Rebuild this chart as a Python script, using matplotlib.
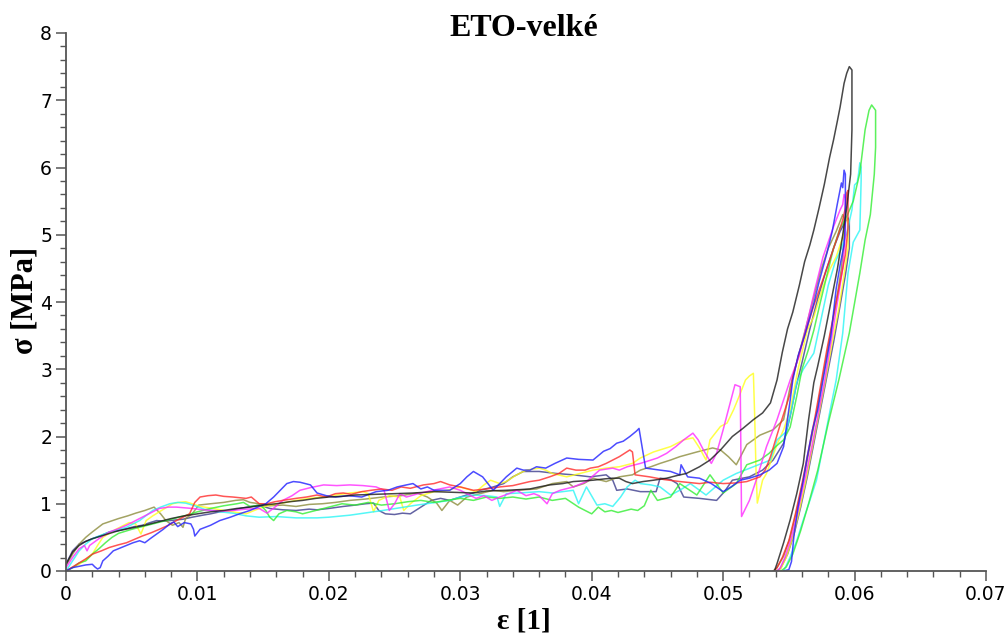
import matplotlib.pyplot as plt
from matplotlib.ticker import MultipleLocator

# stress-strain curves (strain [-], stress [MPa]), loading then unloading
navy = [(0, 0.1), (0.0005, 0.3), (0.001, 0.4), (0.0015, 0.44), (0.002, 0.48), (0.0027, 0.53), (0.0033, 0.58),
        (0.004, 0.6), (0.0046, 0.63), (0.0052, 0.66), (0.0058, 0.68), (0.0064, 0.72), (0.0069, 0.75), (0.0074, 0.74),
        (0.0079, 0.75), (0.0084, 0.76), (0.0089, 0.77), (0.0096, 0.8), (0.0104, 0.83), (0.011, 0.85), (0.0117, 0.88),
        (0.0125, 0.9), (0.0135, 0.94), (0.0147, 0.98), (0.0155, 0.93), (0.0165, 0.91), (0.0175, 0.9), (0.0185, 0.92),
        (0.0191, 0.91), (0.02, 0.93), (0.0211, 0.96), (0.022, 0.98), (0.0228, 1.0), (0.0234, 1.01), (0.0238, 0.9),
        (0.0243, 0.85), (0.025, 0.84), (0.0256, 0.86), (0.0262, 0.85), (0.027, 0.95), (0.0278, 1.05), (0.0285, 1.08),
        (0.0292, 1.05), (0.03, 1.1), (0.0308, 1.15), (0.0315, 1.2), (0.0325, 1.25), (0.0333, 1.3), (0.034, 1.4),
        (0.0348, 1.48), (0.036, 1.48), (0.0373, 1.45), (0.0386, 1.43), (0.0399, 1.4), (0.0411, 1.43), (0.0416, 1.35),
        (0.0419, 1.2), (0.0427, 1.22), (0.0437, 1.18), (0.0449, 1.18), (0.0452, 1.38), (0.046, 1.36), (0.0465, 1.3),
        (0.047, 1.1), (0.0482, 1.08), (0.0495, 1.05), (0.0501, 1.18), (0.0507, 1.35), (0.052, 1.4), (0.053, 1.5),
        (0.0538, 1.65), (0.0546, 1.9), (0.0551, 2.3), (0.0555, 2.7), (0.056, 3.1), (0.0566, 3.6), (0.0572, 4.05),
        (0.0578, 4.45), (0.0584, 4.8), (0.0589, 5.05), (0.0593, 5.2), (0.0595, 5.25), (0.0596, 5.2),
        (0.0596, 4.8), (0.0593, 4.4), (0.0589, 3.95), (0.0584, 3.4), (0.0579, 2.9), (0.0574, 2.4), (0.0569, 1.9),
        (0.0564, 1.4), (0.0559, 0.95), (0.0554, 0.55), (0.0549, 0.25), (0.0544, 0.05), (0.0541, 0.0)]

olive = [(0, 0.08), (0.0005, 0.25), (0.001, 0.4), (0.0015, 0.5), (0.002, 0.58), (0.0028, 0.7), (0.0034, 0.74),
         (0.004, 0.78), (0.0047, 0.82), (0.0053, 0.86), (0.006, 0.9), (0.0067, 0.95), (0.0072, 0.85), (0.0076, 0.75),
         (0.0081, 0.68), (0.0086, 0.72), (0.0089, 0.65), (0.0091, 0.78), (0.0096, 0.85), (0.0101, 0.98), (0.011, 1.0),
         (0.012, 1.02), (0.0129, 1.05), (0.0135, 1.06), (0.014, 1.02), (0.0147, 1.0), (0.0155, 0.97), (0.0165, 0.98),
         (0.0175, 0.96), (0.0185, 0.99), (0.0195, 1.0), (0.0205, 1.02), (0.0216, 1.05), (0.0228, 1.07), (0.0241, 1.1),
         (0.0255, 1.12), (0.0267, 1.16), (0.0275, 1.1), (0.0282, 1.01), (0.0286, 0.9), (0.0292, 1.05), (0.0298, 0.98),
         (0.0305, 1.1), (0.0315, 1.15), (0.0325, 1.2), (0.0333, 1.18), (0.0343, 1.2), (0.0358, 1.22), (0.037, 1.3),
         (0.0381, 1.33), (0.0386, 1.25), (0.0394, 1.3), (0.0401, 1.38), (0.0411, 1.33), (0.0421, 1.4), (0.0431, 1.43),
         (0.0437, 1.5), (0.0445, 1.55), (0.0452, 1.6), (0.046, 1.65), (0.0467, 1.7), (0.048, 1.77), (0.0492, 1.83),
         (0.0498, 1.8), (0.0504, 1.7), (0.051, 1.58), (0.0518, 1.88), (0.0528, 2.02), (0.0538, 2.1), (0.0546, 2.25),
         (0.0551, 2.74), (0.0556, 3.1), (0.0562, 3.55), (0.0568, 4.0), (0.0574, 4.45), (0.058, 4.8), (0.0586, 5.05),
         (0.0589, 5.2), (0.0591, 5.3), (0.0592, 5.25),
         (0.0592, 4.9), (0.059, 4.5), (0.0586, 4.0), (0.0581, 3.45), (0.0576, 2.9), (0.0571, 2.35), (0.0566, 1.85),
         (0.0561, 1.35), (0.0556, 0.9), (0.0551, 0.5), (0.0546, 0.22), (0.0541, 0.05), (0.0538, 0.0)]

yellow = [(0, 0), (0.0005, 0.05), (0.001, 0.1), (0.0015, 0.17), (0.002, 0.25), (0.0024, 0.38), (0.0028, 0.5),
          (0.0033, 0.56), (0.0038, 0.62), (0.0043, 0.67), (0.0048, 0.72), (0.0053, 0.7), (0.0057, 0.55), (0.0061, 0.75),
          (0.0066, 0.82), (0.0071, 0.88), (0.0076, 0.94), (0.0081, 1.0), (0.0086, 1.02), (0.0091, 1.03), (0.0096, 1.0),
          (0.0102, 0.96), (0.0112, 0.93), (0.012, 0.9), (0.0127, 0.88), (0.0137, 0.85), (0.0147, 0.93), (0.0155, 0.98),
          (0.0165, 1.01), (0.0175, 1.05), (0.0185, 1.08), (0.0195, 1.1), (0.0206, 1.13), (0.0216, 1.16), (0.0226, 1.18),
          (0.023, 1.15), (0.0234, 0.88), (0.0238, 1.05), (0.0246, 1.12), (0.0254, 1.1), (0.0257, 0.9), (0.0262, 1.0),
          (0.027, 1.12), (0.028, 1.18), (0.029, 1.2), (0.03, 1.25), (0.0305, 1.22), (0.0312, 1.18), (0.0318, 1.28),
          (0.0323, 1.35), (0.033, 1.3), (0.0335, 1.33), (0.0342, 1.42), (0.035, 1.5), (0.036, 1.53), (0.0365, 1.5),
          (0.037, 1.45), (0.0381, 1.4), (0.0391, 1.45), (0.0401, 1.5), (0.0411, 1.53), (0.0421, 1.55), (0.0431, 1.6),
          (0.0437, 1.68), (0.0447, 1.77), (0.046, 1.85), (0.047, 1.95), (0.0477, 1.98), (0.0482, 1.83), (0.0487, 1.65),
          (0.049, 1.95), (0.0498, 2.15), (0.0503, 2.2), (0.0508, 2.4), (0.0512, 2.59), (0.0517, 2.84), (0.052, 2.9),
          (0.0523, 2.94), (0.0524, 2.3), (0.0525, 1.5), (0.0526, 1.01), (0.053, 1.35), (0.0533, 1.45), (0.0541, 1.88),
          (0.0546, 2.1), (0.0551, 2.4), (0.0557, 3.0), (0.0564, 3.58), (0.0569, 3.78), (0.0576, 4.23), (0.0581, 4.48),
          (0.0586, 4.67), (0.0591, 4.97), (0.0594, 5.27), (0.0595, 5.2),
          (0.0595, 4.8), (0.0592, 4.4), (0.0588, 3.9), (0.0583, 3.4), (0.0578, 2.85), (0.0573, 2.35), (0.0568, 1.85),
          (0.0563, 1.35), (0.0558, 0.9), (0.0553, 0.5), (0.0548, 0.2), (0.0544, 0.04), (0.0542, 0.0)]

cyan = [(0, 0), (0.0005, 0.15), (0.001, 0.3), (0.0015, 0.4), (0.002, 0.48), (0.0033, 0.58), (0.0046, 0.65),
        (0.0056, 0.75), (0.0066, 0.9), (0.0072, 0.95), (0.0079, 1.0), (0.0085, 1.02), (0.0091, 1.01), (0.0098, 0.97),
        (0.0105, 0.92), (0.0117, 0.88), (0.0127, 0.86), (0.0137, 0.82), (0.0147, 0.8), (0.016, 0.81), (0.0175, 0.79),
        (0.0191, 0.79), (0.02, 0.8), (0.0216, 0.83), (0.0241, 0.9), (0.0267, 0.98), (0.0285, 1.03), (0.0292, 1.05),
        (0.03, 1.1), (0.031, 1.13), (0.032, 1.12), (0.0328, 1.1), (0.033, 0.96), (0.0335, 1.15), (0.0345, 1.16),
        (0.036, 1.18), (0.037, 1.16), (0.0386, 1.2), (0.039, 1.0), (0.0396, 1.25), (0.0404, 0.98), (0.041, 1.0),
        (0.0416, 0.96), (0.0422, 1.1), (0.0427, 1.25), (0.0433, 1.35), (0.0437, 1.3), (0.0445, 1.28), (0.0452, 1.25),
        (0.046, 1.13), (0.0467, 1.2), (0.0475, 1.3), (0.0487, 1.13), (0.05, 1.35), (0.051, 1.45), (0.0523, 1.55),
        (0.0536, 1.65), (0.0541, 1.95), (0.0548, 2.07), (0.0552, 2.4), (0.0556, 2.8), (0.0561, 3.0), (0.0569, 3.24),
        (0.0576, 3.88), (0.058, 4.25), (0.0585, 4.58), (0.059, 4.8), (0.0594, 5.02), (0.0598, 5.37), (0.06, 5.74),
        (0.0602, 5.78), (0.0603, 5.9), (0.0604, 6.07), (0.0605, 6.0),
        (0.0605, 5.81), (0.0604, 5.07), (0.0599, 4.89), (0.0595, 4.43), (0.0591, 3.54), (0.0586, 2.84), (0.0581, 2.35),
        (0.0576, 1.85), (0.0571, 1.35), (0.0566, 1.05), (0.0561, 0.76), (0.0556, 0.45), (0.0551, 0.21), (0.0548, 0.08),
        (0.0546, 0.0)]

green = [(0, 0), (0.0005, 0.05), (0.001, 0.12), (0.0015, 0.15), (0.002, 0.25), (0.0025, 0.33), (0.003, 0.42),
         (0.0035, 0.5), (0.004, 0.56), (0.005, 0.62), (0.006, 0.67), (0.007, 0.72), (0.008, 0.77), (0.009, 0.82),
         (0.01, 0.88), (0.011, 0.93), (0.012, 0.97), (0.013, 1.0), (0.0135, 1.02), (0.014, 0.96), (0.0148, 0.98),
         (0.0152, 0.9), (0.0155, 0.8), (0.0158, 0.75), (0.0162, 0.85), (0.0168, 0.9), (0.0175, 0.88), (0.018, 0.85),
         (0.019, 0.9), (0.02, 0.95), (0.021, 1.0), (0.022, 0.98), (0.023, 1.02), (0.024, 0.98), (0.025, 1.0),
         (0.026, 1.03), (0.027, 1.05), (0.028, 1.02), (0.029, 1.05), (0.03, 1.08), (0.031, 1.05), (0.032, 1.1),
         (0.033, 1.08), (0.034, 1.1), (0.035, 1.07), (0.036, 1.1), (0.037, 1.05), (0.038, 1.08), (0.039, 0.95),
         (0.04, 0.85), (0.0405, 0.95), (0.041, 0.88), (0.0415, 0.9), (0.042, 0.87), (0.043, 0.92), (0.0435, 0.9),
         (0.044, 0.97), (0.0445, 1.2), (0.045, 1.05), (0.046, 1.1), (0.0467, 1.3), (0.048, 1.13), (0.049, 1.43),
         (0.05, 1.16), (0.051, 1.3), (0.0518, 1.58), (0.0528, 1.65), (0.0535, 1.75), (0.054, 1.85), (0.0546, 1.95),
         (0.0551, 2.14), (0.0556, 2.6), (0.056, 3.0), (0.0565, 3.3), (0.0569, 3.58), (0.0574, 4.0), (0.0579, 4.4),
         (0.0584, 4.8), (0.0589, 5.1), (0.0594, 5.27), (0.0599, 5.5), (0.0604, 5.92), (0.0608, 6.56), (0.0611, 6.85),
         (0.0613, 6.93), (0.0616, 6.85),
         (0.0616, 6.3), (0.0615, 5.9), (0.0612, 5.3), (0.0608, 4.92), (0.0604, 4.43), (0.0596, 3.54), (0.0588, 2.84),
         (0.058, 2.2), (0.0572, 1.5), (0.0565, 1.0), (0.0559, 0.6), (0.0553, 0.25), (0.0548, 0.06), (0.0544, 0.0)]

magenta = [(0, 0.05), (0.0005, 0.2), (0.001, 0.33), (0.0014, 0.38), (0.0016, 0.3), (0.0018, 0.38), (0.0025, 0.48),
           (0.0033, 0.58), (0.004, 0.63), (0.0046, 0.68), (0.0052, 0.74), (0.0058, 0.8), (0.0065, 0.87), (0.0071, 0.93),
           (0.0078, 0.95), (0.0084, 0.95), (0.009, 0.94), (0.0096, 0.93), (0.0104, 0.91), (0.0112, 0.9), (0.012, 0.89),
           (0.0127, 0.9), (0.0137, 0.92), (0.0147, 0.93), (0.0153, 0.86), (0.0159, 0.95), (0.0165, 1.05),
           (0.0172, 1.12), (0.0178, 1.2), (0.0186, 1.24), (0.0196, 1.28), (0.0206, 1.27), (0.0216, 1.28),
           (0.0226, 1.27), (0.0236, 1.25), (0.0242, 1.2), (0.0246, 0.9), (0.025, 1.0), (0.0254, 1.15), (0.0259, 1.1),
           (0.0268, 1.15), (0.0279, 1.2), (0.0292, 1.25), (0.03, 1.2), (0.0305, 1.15), (0.0312, 1.08), (0.0318, 1.12),
           (0.0324, 1.05), (0.033, 1.1), (0.0337, 1.15), (0.0343, 1.2), (0.035, 1.12), (0.0356, 1.15), (0.036, 1.12),
           (0.0366, 1.0), (0.037, 1.15), (0.0376, 1.2), (0.0386, 1.25), (0.0396, 1.33), (0.0406, 1.5), (0.0416, 1.53),
           (0.0421, 1.5), (0.0427, 1.55), (0.0437, 1.6), (0.0442, 1.63), (0.045, 1.68), (0.0457, 1.75), (0.0464, 1.85),
           (0.047, 1.95), (0.0477, 2.05), (0.0481, 1.95), (0.0485, 1.8), (0.0491, 1.6), (0.0495, 1.75), (0.05, 2.1),
           (0.0504, 2.4), (0.0509, 2.77), (0.0513, 2.74), (0.0514, 0.81), (0.052, 1.05), (0.0526, 1.4),
           (0.0533, 1.85), (0.0541, 2.25), (0.0551, 2.84), (0.0558, 3.2), (0.0564, 3.7), (0.057, 4.2), (0.0576, 4.67),
           (0.0584, 5.12), (0.0589, 5.37), (0.0591, 5.45), (0.0592, 5.6), (0.0593, 5.55),
           (0.0593, 5.0), (0.0591, 4.5), (0.0587, 4.0), (0.0582, 3.4), (0.0577, 2.8), (0.0572, 2.3), (0.0567, 1.8),
           (0.0562, 1.35), (0.0557, 0.9), (0.0552, 0.5), (0.0547, 0.2), (0.0543, 0.03), (0.0541, 0.0)]

red = [(0, 0), (0.0005, 0.06), (0.001, 0.12), (0.0015, 0.18), (0.002, 0.25), (0.0027, 0.3), (0.0033, 0.35),
       (0.004, 0.39), (0.0046, 0.42), (0.0052, 0.47), (0.0058, 0.52), (0.0065, 0.57), (0.0071, 0.62), (0.0078, 0.68),
       (0.0084, 0.75), (0.0089, 0.8), (0.0094, 0.85), (0.0098, 1.02), (0.0102, 1.1), (0.0108, 1.12), (0.0114, 1.13),
       (0.012, 1.11), (0.0127, 1.1), (0.0132, 1.09), (0.0137, 1.08), (0.0141, 1.1), (0.0144, 1.05), (0.0147, 1.0),
       (0.0153, 1.0), (0.0159, 1.03), (0.0165, 1.05), (0.0175, 1.08), (0.0183, 1.1), (0.0191, 1.13), (0.0198, 1.1),
       (0.0205, 1.15), (0.0211, 1.16), (0.0217, 1.14), (0.0225, 1.18), (0.0232, 1.2), (0.024, 1.22), (0.0248, 1.2),
       (0.0255, 1.25), (0.0262, 1.23), (0.0272, 1.28), (0.028, 1.3), (0.0285, 1.33), (0.0292, 1.28), (0.03, 1.25),
       (0.031, 1.2), (0.032, 1.22), (0.033, 1.25), (0.034, 1.27), (0.0353, 1.33), (0.036, 1.35), (0.0368, 1.4),
       (0.0375, 1.45), (0.0381, 1.53), (0.0388, 1.5), (0.0395, 1.5), (0.0399, 1.53), (0.0405, 1.55), (0.0411, 1.6),
       (0.0416, 1.65), (0.0421, 1.7), (0.0425, 1.75), (0.0429, 1.8), (0.0431, 1.77), (0.0433, 1.43), (0.0444, 1.4),
       (0.0455, 1.36), (0.0467, 1.33), (0.0482, 1.3), (0.049, 1.32), (0.05, 1.3), (0.051, 1.31), (0.0518, 1.33),
       (0.0528, 1.4), (0.0532, 1.5), (0.0536, 1.7), (0.0543, 2.15), (0.0551, 2.64), (0.0553, 2.89), (0.0558, 3.25),
       (0.0564, 3.63), (0.0569, 3.95), (0.0574, 4.23), (0.0578, 4.45), (0.0581, 4.62), (0.0587, 4.97),
       (0.0591, 5.22), (0.0593, 5.4), (0.0594, 5.62), (0.0595, 5.66),
       (0.0595, 5.1), (0.0593, 4.7), (0.0589, 4.3), (0.0584, 3.8), (0.0579, 3.3), (0.0575, 2.85), (0.057, 2.3),
       (0.0565, 1.8), (0.056, 1.3), (0.0555, 0.85), (0.055, 0.45), (0.0545, 0.2), (0.0541, 0.05), (0.0539, 0.0)]

blue = [(0, 0), (0.0005, 0.05), (0.001, 0.07), (0.0015, 0.09), (0.002, 0.1), (0.0022, 0.06), (0.0024, 0.03),
        (0.0026, 0.05), (0.0028, 0.15), (0.0032, 0.22), (0.0036, 0.3), (0.0041, 0.34), (0.0046, 0.38), (0.0051, 0.42),
        (0.0056, 0.45), (0.006, 0.42), (0.0064, 0.48), (0.0069, 0.55), (0.0074, 0.62), (0.0079, 0.7), (0.0082, 0.73),
        (0.0085, 0.66), (0.009, 0.72), (0.0095, 0.7), (0.0097, 0.62), (0.0098, 0.52), (0.0102, 0.62), (0.011, 0.68),
        (0.0117, 0.75), (0.0125, 0.8), (0.0132, 0.85), (0.014, 0.9), (0.0147, 0.96), (0.0152, 1.0), (0.0158, 1.1),
        (0.0163, 1.2), (0.0168, 1.3), (0.0173, 1.33), (0.0178, 1.32), (0.0182, 1.3), (0.0186, 1.28), (0.0191, 1.16),
        (0.0198, 1.12), (0.0205, 1.1), (0.0215, 1.12), (0.0225, 1.1), (0.0236, 1.18), (0.0245, 1.2), (0.0252, 1.25),
        (0.0259, 1.28), (0.0264, 1.3), (0.027, 1.22), (0.0275, 1.25), (0.028, 1.2), (0.0292, 1.2), (0.03, 1.3),
        (0.0305, 1.4), (0.031, 1.48), (0.0317, 1.4), (0.0325, 1.2), (0.033, 1.3), (0.0335, 1.4), (0.0343, 1.53),
        (0.0348, 1.5), (0.0353, 1.5), (0.0358, 1.55), (0.0365, 1.53), (0.0372, 1.6), (0.0381, 1.68), (0.039, 1.66),
        (0.0401, 1.65), (0.0409, 1.78), (0.0414, 1.82), (0.0419, 1.9), (0.0424, 1.93), (0.0429, 2.0), (0.0434, 2.08),
        (0.0436, 2.12), (0.0441, 1.53), (0.0452, 1.5), (0.046, 1.48), (0.0467, 1.43), (0.0468, 1.58), (0.0473, 1.4),
        (0.0482, 1.38), (0.0491, 1.3), (0.05, 1.18), (0.0506, 1.25), (0.0513, 1.35), (0.052, 1.38), (0.0528, 1.43),
        (0.0535, 1.5), (0.0541, 1.6), (0.0546, 1.85), (0.0551, 2.54), (0.0553, 2.84), (0.0557, 3.2), (0.0562, 3.5),
        (0.0569, 3.98), (0.0573, 4.3), (0.0579, 4.73), (0.0583, 5.05), (0.0587, 5.47), (0.059, 5.77), (0.0591, 5.7),
        (0.0592, 5.96), (0.0593, 5.9),
        (0.0593, 5.2), (0.0592, 4.85), (0.0589, 4.55), (0.0586, 4.2), (0.0582, 3.5), (0.0576, 2.84), (0.0572, 2.4),
        (0.0568, 2.1), (0.0564, 1.7), (0.0561, 1.35), (0.0557, 0.95), (0.0554, 0.55), (0.0552, 0.14), (0.055, 0.02),
        (0.0546, 0.0)]

black = [(0, 0.1), (0.0005, 0.28), (0.001, 0.38), (0.0015, 0.44), (0.002, 0.48), (0.003, 0.54), (0.004, 0.6),
         (0.005, 0.64), (0.006, 0.68), (0.007, 0.73), (0.008, 0.78), (0.009, 0.82), (0.01, 0.85), (0.011, 0.88),
         (0.012, 0.9), (0.013, 0.93), (0.014, 0.95), (0.015, 0.98), (0.016, 1.0), (0.017, 1.03), (0.018, 1.05),
         (0.019, 1.08), (0.02, 1.1), (0.021, 1.11), (0.022, 1.13), (0.0235, 1.14), (0.025, 1.15), (0.0265, 1.16),
         (0.028, 1.18), (0.0295, 1.17), (0.031, 1.16), (0.032, 1.19), (0.0335, 1.2), (0.0345, 1.21), (0.0353, 1.22),
         (0.036, 1.25), (0.0368, 1.28), (0.0378, 1.3), (0.0386, 1.33), (0.0394, 1.34), (0.0401, 1.35), (0.041, 1.37),
         (0.0416, 1.38), (0.0421, 1.38), (0.0426, 1.33), (0.0431, 1.3), (0.0439, 1.33), (0.0447, 1.35),
         (0.0457, 1.38), (0.0465, 1.42), (0.0472, 1.45), (0.0477, 1.5), (0.0482, 1.55), (0.049, 1.65), (0.0498, 1.8),
         (0.0507, 2.0), (0.0515, 2.12), (0.0523, 2.25), (0.053, 2.35), (0.0536, 2.5), (0.0541, 2.84), (0.0545, 3.25),
         (0.0549, 3.6), (0.0553, 3.85), (0.0558, 4.25), (0.0562, 4.6), (0.0566, 4.85), (0.0569, 5.07), (0.0573, 5.4),
         (0.0577, 5.75), (0.0581, 6.15), (0.0584, 6.41), (0.0587, 6.7), (0.0589, 6.9), (0.0592, 7.25), (0.0594, 7.4),
         (0.0596, 7.5), (0.0598, 7.45),
         (0.0598, 6.56), (0.0597, 5.9), (0.0594, 5.4), (0.0591, 5.0), (0.0587, 4.5), (0.0582, 4.0), (0.0577, 3.5),
         (0.0572, 3.05), (0.0569, 2.8), (0.0565, 2.25), (0.0561, 1.6), (0.0556, 1.15), (0.0551, 0.76), (0.0546, 0.42),
         (0.0541, 0.11), (0.0539, 0.0)]

curves = [(navy, '#3c3c8c'), (olive, '#8c8c3c'), (yellow, '#ffff1a'), (cyan, '#2af5f5'),
          (green, '#33ee33'), (magenta, '#ff2aff'), (red, '#ff2a2a'), (blue, '#1f1fff'), (black, '#1a1a1a')]

x_ticks = [0, 0.01, 0.02, 0.03, 0.04, 0.05, 0.06, 0.07]
x_labels = ['0', '0.01', '0.02', '0.03', '0.04', '0.05', '0.06', '0.07']
y_ticks = [0, 1, 2, 3, 4, 5, 6, 7, 8]

fig = plt.figure(figsize=(10.08, 6.37), dpi=100)
ax = fig.add_axes([66 / 1008, 66 / 637, 920 / 1008, 538 / 637])

for pts, col in curves:
    ax.plot([p[0] for p in pts], [p[1] for p in pts], color=col, lw=1.1, alpha=0.8)

ax.set_xlim(0, 0.07)
ax.set_ylim(0, 8)
ax.set_xticks(x_ticks)
ax.set_xticklabels(x_labels)
ax.set_yticks(y_ticks)
ax.xaxis.set_minor_locator(MultipleLocator(0.002))
ax.yaxis.set_minor_locator(MultipleLocator(0.2))

for side in ['top', 'right']:
    ax.spines[side].set_visible(False)
for side in ['left', 'bottom']:
    ax.spines[side].set_color('#555555')
    ax.spines[side].set_linewidth(1.3)
ax.tick_params(which='major', direction='out', length=7, width=1.1, color='#555555',
               labelsize=13.5, pad=3)
ax.tick_params(which='minor', direction='out', length=4, width=1.0, color='#555555')
for lab in ax.get_xticklabels() + ax.get_yticklabels():
    lab.set_fontfamily('DejaVu Sans')

serif = 'Liberation Serif'
fig.text(524 / 1008, 1 - 36 / 637, 'ETO-velké', ha='center', va='baseline',
         fontsize=23, fontweight='bold', family=serif)
fig.text(524 / 1008, 1 - 629 / 637, 'ε [1]', ha='center', va='baseline',
         fontsize=21, fontweight='bold', family=serif)
fig.text(25 / 1008, 1 - 300 / 637, 'σ [MPa]', ha='center', va='center', rotation=90,
         fontsize=22, fontweight='bold', family=serif)

fig.savefig('out.png', dpi=100)
